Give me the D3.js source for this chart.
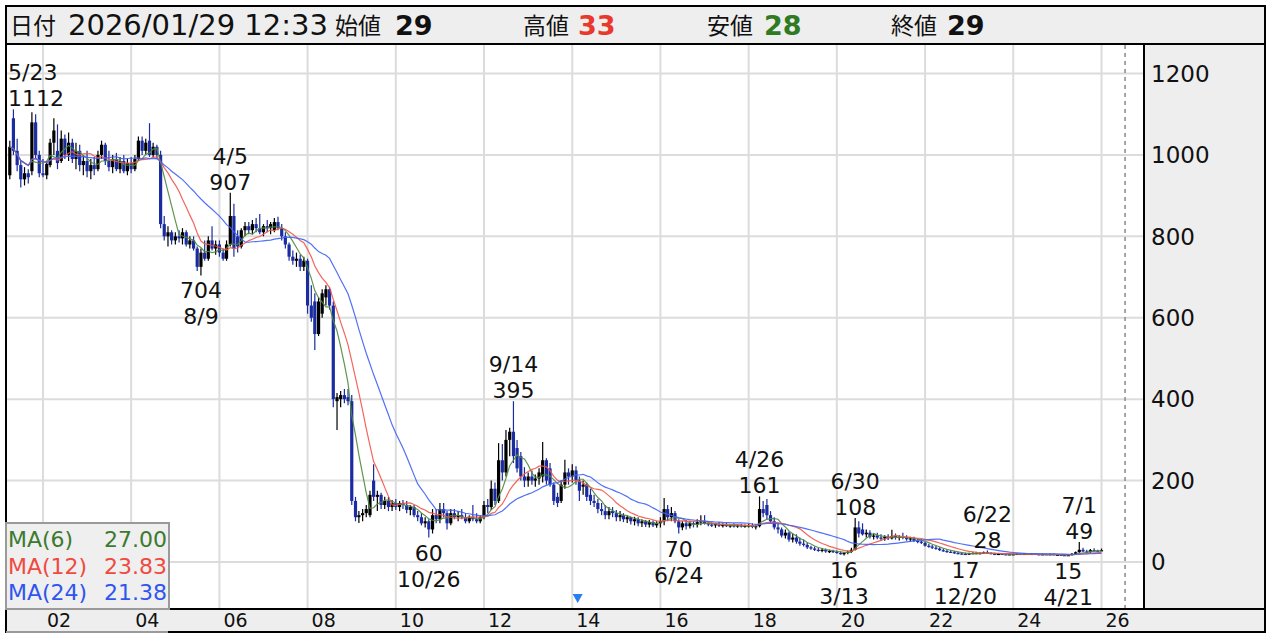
<!DOCTYPE html>
<html><head><meta charset="utf-8">
<script src="https://cdn.jsdelivr.net/npm/d3@7"></script>
<style>body{margin:0;background:#fff}svg{display:block}</style>
</head><body><svg id="c" width="1270" height="636"></svg>
<script>
// ---- DATA (monthly candles, first month = April 2001) ----
const firstMonth = [2001, 4];
const opens = [
 950,1090,1010,975,940,955,960,1080,1000,
 955,950,975,1030,1010,985,1040,1000,1030,990,1010,975,
 985,960,975,965,1000,1025,985,970,990,965,985,960,
 980,965,990,1035,1010,1035,1000,1020,1000,830,800,810,
 790,800,795,810,780,790,770,725,760,745,790,770,
 780,760,745,780,850,800,775,815,825,815,830,820,
 810,825,820,815,835,820,800,780,750,740,745,725,
 740,630,640,560,610,650,670,630,395,400,410,405,
 395,150,110,115,120,115,200,160,165,140,150,135,
 145,135,145,140,128,135,115,110,95,100,80,115,
 105,130,120,95,120,110,115,110,100,110,105,100,
 110,140,135,180,150,250,220,300,320,280,260,210,
 200,210,200,205,210,250,230,190,160,150,190,220,
 210,225,200,185,190,165,150,145,130,125,115,125,
 120,110,115,105,110,100,105,95,100,92,98,90,
 95,100,130,110,120,100,85,95,88,95,92,98,
 100,95,92,90,93,89,91,88,90,87,90,88,
 89,90,86,88,130,140,115,100,85,80,65,72,
 55,60,50,45,42,36,33,30,28,30,26,27,
 25,22,20,22,25,30,85,80,68,72,62,65,
 60,58,62,58,64,60,62,60,56,58,52,50,
 47,40,38,35,33,29,27,25,24,22,21,20,
 19,21,22,21,22,24,22,20,19,20,19,18,
 19,19,20,19,20,19,20,19,18,19,18,19,
 18,18,17,16,17,20,24,30,26,24,29,28,
 29];
const highs = [
 1035,1112,1040,985,970,965,1105,1100,1010,
 990,985,1040,1090,1075,1060,1050,1055,1040,1030,1025,1000,
 1010,990,995,1010,1035,1030,1010,1000,1005,995,1000,990,
 995,1000,1045,1045,1040,1078,1030,1025,1010,850,825,815,
 810,815,820,815,800,800,775,770,790,800,825,790,
 790,770,790,907,880,815,820,835,835,840,845,855,
 830,840,835,845,848,830,810,785,765,760,755,750,
 745,680,660,650,670,680,675,640,415,420,425,425,
 410,160,125,130,140,175,240,175,170,160,160,152,
 155,150,152,150,140,140,125,120,110,105,130,130,
 145,145,125,130,130,125,130,120,115,140,120,115,
 150,155,200,195,292,290,324,330,395,300,270,233,
 220,225,215,230,295,255,243,195,170,201,251,230,
 240,235,210,200,195,180,165,155,145,140,135,135,
 128,125,120,115,112,111,110,105,103,103,102,100,
 110,157,140,135,125,105,100,103,100,100,105,115,
 115,100,97,96,98,95,96,93,95,93,94,92,
 94,95,92,161,150,155,125,110,95,85,80,75,
 70,68,60,55,48,40,38,35,34,33,30,30,
 28,26,24,28,35,108,100,95,80,78,70,72,
 68,66,68,79,70,66,72,66,62,62,58,56,
 50,45,42,40,36,33,30,29,27,26,24,23,
 23,24,25,24,26,28,24,23,22,22,21,21,
 21,22,21,22,21,22,21,20,21,20,21,20,
 20,19,18,18,22,26,49,35,30,32,34,30,
 33];
const lows = [
 940,1000,960,920,925,930,950,990,945,
 945,940,970,1000,965,980,990,985,980,965,960,950,
 945,940,950,960,990,975,960,955,960,955,955,950,
 955,960,985,1000,1000,995,995,990,820,790,775,780,
 780,785,780,775,770,765,715,704,740,740,765,755,
 750,740,740,775,750,760,770,800,805,805,810,805,
 800,810,805,810,815,790,770,740,730,725,715,715,
 610,590,521,555,600,630,620,380,324,380,390,385,
 140,100,96,100,110,110,150,125,130,130,125,125,
 128,125,130,120,115,110,100,90,85,60,70,95,
 95,110,80,90,105,100,105,95,95,100,95,95,
 105,120,128,140,145,200,210,260,243,220,200,184,
 185,190,185,190,195,190,185,140,135,145,180,190,
 195,190,150,165,150,140,135,120,115,105,105,110,
 100,100,98,96,92,90,88,86,86,85,86,84,
 85,90,100,100,95,70,78,80,82,85,85,90,
 92,88,86,84,86,85,86,84,85,84,85,84,
 85,83,80,85,110,105,95,80,70,60,58,50,
 48,45,40,38,32,30,27,25,24,23,22,22,
 20,18,16,19,22,28,60,65,60,58,55,56,
 52,52,54,55,55,53,56,52,50,49,46,44,
 38,35,32,30,27,25,23,22,20,19,18,17,
 18,19,19,19,20,21,19,18,17,18,17,17,
 17,18,18,18,18,18,17,17,17,17,17,17,
 16,16,15.5,15,16,18,23,24,23,23,26,25,
 28];
const closes = [
 1020,1010,975,940,955,945,1080,1000,955,
 950,978,1030,1060,980,1040,1000,1030,990,1010,975,985,
 960,975,965,1000,1025,985,970,990,965,985,960,980,
 965,990,1035,1010,1030,1000,1020,1000,830,800,810,790,
 800,795,810,780,790,770,725,760,745,790,770,780,
 760,745,780,850,770,775,815,825,815,830,820,810,
 825,820,830,835,820,800,780,750,740,745,725,740,
 630,600,560,640,660,670,630,400,405,410,400,395,
 150,110,115,120,130,165,160,165,140,150,135,145,
 135,145,140,128,135,115,110,95,100,80,115,105,
 130,120,95,120,110,115,110,100,110,105,100,110,
 140,135,180,150,250,220,300,320,260,230,210,200,
 210,200,205,220,250,200,190,150,145,190,220,210,
 225,200,175,190,160,150,145,130,125,115,125,120,
 110,115,105,110,100,105,95,100,92,98,90,95,
 100,130,110,120,100,85,95,88,95,92,98,100,
 95,92,90,93,89,91,88,90,87,90,88,89,
 90,86,88,130,120,115,100,85,80,65,72,55,
 60,50,45,42,36,33,30,28,30,26,27,25,
 22,20,22,25,30,85,70,68,72,62,65,60,
 58,62,58,64,60,62,60,56,58,52,50,47,
 40,38,35,33,29,27,25,24,22,21,20,19,
 21,22,21,22,24,22,20,19,20,19,18,19,
 19,20,19,20,19,20,19,18,19,18,19,18,
 18,17,16,17,20,24,30,26,24,29,28,26,
 29];
const headerDate = "2026/01/29 12:33";
const headerFields = ["始値","高値","安値","終値"];
const yTicks = [0,200,400,600,800,1000,1200];
const xTickYears = [2002,2004,2006,2008,2010,2012,2014,2016,2018,2020,2022,2024,2026];
const xTickLabels = ["02","04","06","08","10","12","14","16","18","20","22","24","26"];
const maPeriods = [6,12,24];
const maColors = ["#4f8a3c","#f2554a","#3f62f5"];
const maTextColors = ["#3d7a30","#f04a40","#2f55f0"];
// extreme labels: [year, month, date text, kind]
const extremeLabels = [
 [2001,5,"5/23","high"],[2006,4,"4/5","high"],[2005,8,"8/9","low"],
 [2012,9,"9/14","high"],[2010,10,"10/26","low"],[2016,6,"6/24","low"],
 [2018,4,"4/26","high"],[2020,6,"6/30","high"],[2020,3,"3/13","low"],
 [2022,12,"12/20","low"],[2023,6,"6/22","high"],[2025,4,"4/21","low"],
 [2025,7,"7/1","high"]];
const markerDates = [[2014,2,15]];
const futureLineDate = [2026,7,15];

// ---- LAYOUT ----
const svg = d3.select("#c");
const plotL=7, plotR=1143, plotT=45, plotB=608;
const x = d3.scaleTime().domain([new Date(2002,0,1), new Date(2026,0,1)]).range([43,1101.5]);
const y = d3.scaleLinear().domain([0,1200]).range([562,73.5]);
const num = "'DejaVu Sans','Noto Sans CJK JP',sans-serif";

const data = opens.map((o,i)=>({
  date:new Date(firstMonth[0], firstMonth[1]-1+i, 1),
  o, h:highs[i], l:lows[i], c:closes[i]}));

// backgrounds
svg.append("rect").attr("width",1270).attr("height",636).attr("fill","#fff");
svg.append("rect").attr("x",6).attr("y",6).attr("width",1259).attr("height",38).attr("fill","#eeeeee");
svg.append("rect").attr("x",1144).attr("y",44).attr("width",121).attr("height",565).attr("fill","#eeeeee");
svg.append("rect").attr("x",6).attr("y",609).attr("width",1259).attr("height",23).attr("fill","#eeeeee");

svg.append("defs").append("clipPath").attr("id","pc").append("rect")
  .attr("x",plotL).attr("y",plotT).attr("width",plotR-plotL).attr("height",plotB-plotT);

// grid
const grid = svg.append("g").attr("stroke","#dcdcdc").attr("stroke-width",2);
yTicks.forEach(t=>grid.append("line").attr("x1",plotL).attr("x2",plotR).attr("y1",y(t)).attr("y2",y(t)));
xTickYears.forEach(yr=>{const xx=x(new Date(yr,0,1));
  grid.append("line").attr("x1",xx).attr("x2",xx).attr("y1",plotT).attr("y2",plotB);});

// future dashed line
const fx = x(new Date(futureLineDate[0],futureLineDate[1]-1,futureLineDate[2]));
svg.append("line").attr("x1",fx).attr("x2",fx).attr("y1",plotT).attr("y2",plotB)
  .attr("stroke","#8a8a8a").attr("stroke-width",1.5).attr("stroke-dasharray","4,4");

const plot = svg.append("g").attr("clip-path","url(#pc)");
// candles
const upC="#000000", dnC="#1a2ca0";
const cg = plot.append("g");
data.forEach(d=>{
  const cx = x(d.date), col = d.c>=d.o?upC:dnC;
  cg.append("line").attr("x1",cx).attr("x2",cx).attr("y1",y(d.h)).attr("y2",y(d.l))
    .attr("stroke",col).attr("stroke-width",1.2);
  const top=y(Math.max(d.o,d.c)), bot=y(Math.min(d.o,d.c));
  cg.append("rect").attr("x",cx-1.6).attr("y",top).attr("width",3.2).attr("height",Math.max(1.2,bot-top)).attr("fill",col);
});
// moving averages
const maLast=[];
maPeriods.forEach((p,k)=>{
  const vals = data.map((d,i)=>({date:d.date, v:d3.mean(closes.slice(Math.max(0,i-p+1),i+1))}));
  maLast.push(vals[vals.length-1].v);
  plot.append("path").datum(vals).attr("fill","none").attr("stroke",maColors[k])
    .attr("stroke-width",1.2).attr("stroke-opacity",0.9)
    .attr("d",d3.line().x(d=>x(d.date)).y(d=>y(d.v)));
});

// extreme labels
const lg = svg.append("g").attr("font-family",num).attr("font-size",22).attr("fill","#111");
extremeLabels.forEach(([yr,mo,txt,kind])=>{
  const d = data.find(e=>e.date.getFullYear()===yr && e.date.getMonth()===mo-1);
  const cx = x(d.date);
  const val = kind==="high"? d.h : d.l;
  const yy = y(val);
  const lines = kind==="high" ? [[txt,yy-29],[String(val),yy-3]] : [[String(val),yy+23],[txt,yy+49]];
  lines.forEach(([s,by])=>{
    const t = lg.append("text").attr("x",cx).attr("y",by).attr("text-anchor","middle").text(s);
    const w = t.node().getComputedTextLength();
    if (cx-w/2 < 8) t.attr("text-anchor","start").attr("x",8);
    if (cx+w/2 > 1140) t.attr("text-anchor","end").attr("x",1140);
  });
});

// marker triangle
markerDates.forEach(([yr,mo,dd])=>{
  const mx = x(new Date(yr,mo-1,dd));
  svg.append("path").attr("d",`M${mx-5},594L${mx+5},594L${mx},603Z`).attr("fill","#2a7ff0");
});

// right axis labels
svg.append("g").selectAll("text").data(yTicks).join("text")
  .attr("x",1151).attr("y",d=>y(d)).attr("dy","0.36em")
  .attr("font-family",num).attr("font-size",23).attr("fill","#111").text(d=>d);
// x axis labels
svg.append("g").selectAll("text").data(xTickYears).join("text")
  .attr("x",(d)=>x(new Date(d,0,1))+4).attr("y",627)
  .attr("font-family",num).attr("font-size",19).attr("fill","#111").text((d,i)=>xTickLabels[i]);

// frame
svg.append("rect").attr("x",6).attr("y",6).attr("width",1259).attr("height",626)
  .attr("fill","none").attr("stroke","#000").attr("stroke-width",2);
svg.append("line").attr("x1",6).attr("x2",1265).attr("y1",44).attr("y2",44).attr("stroke","#000").attr("stroke-width",2);
svg.append("line").attr("x1",6).attr("x2",1265).attr("y1",609).attr("y2",609).attr("stroke","#000").attr("stroke-width",2);
svg.append("line").attr("x1",1144).attr("x2",1144).attr("y1",44).attr("y2",609).attr("stroke","#000").attr("stroke-width",2);

// legend
const leg = svg.append("g");
leg.append("rect").attr("x",6).attr("y",523).attr("width",163).attr("height",86)
  .attr("fill","#efefef").attr("stroke","#9a9a9a").attr("stroke-width",2);
leg.append("line").attr("x1",6).attr("x2",168).attr("y1",632).attr("y2",632).attr("stroke","#9a9a9a").attr("stroke-width",2);
maPeriods.forEach((p,k)=>{
  const by = 547 + k*26.5;
  leg.append("text").attr("x",8).attr("y",by).attr("font-family",num).attr("font-size",22)
    .attr("fill",maTextColors[k]).text(`MA(${p})`);
  leg.append("text").attr("x",167).attr("y",by).attr("text-anchor","end").attr("font-family",num).attr("font-size",22)
    .attr("fill",maTextColors[k]).text(maLast[k].toFixed(2));
});

// header
const last = data[data.length-1];
const hg = svg.append("g");
const jp = "'Noto Sans CJK JP',sans-serif";
hg.append("text").attr("x",10).attr("y",34).attr("font-family",jp).attr("font-size",23).attr("fill","#111").text("日付");
hg.append("text").attr("x",68).attr("y",35).attr("font-family",num).attr("font-size",29).attr("fill","#111").text(headerDate);
const hv = [last.o,last.h,last.l,last.c];
const hvCol = ["#111","#e8392c","#2f7a22","#111"];
const hLabX = [335,523,707,891], hValX=[395,578,764,947];
headerFields.forEach((f,i)=>{
  hg.append("text").attr("x",hLabX[i]).attr("y",34).attr("font-family",jp).attr("font-size",23).attr("fill","#111").text(f);
  hg.append("text").attr("x",hValX[i]).attr("y",35).attr("font-family",num).attr("font-size",27)
    .attr("font-weight","bold").attr("fill",hvCol[i]).text(hv[i]);
});
</script></body></html>
